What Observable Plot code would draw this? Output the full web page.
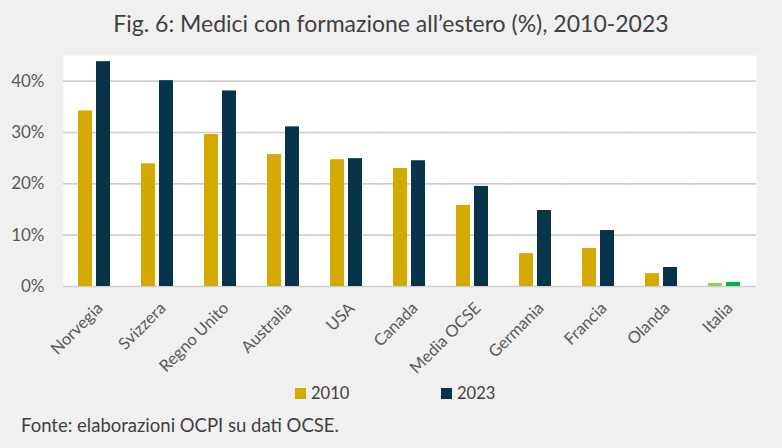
<!DOCTYPE html>
<html><head><meta charset="utf-8">
<script src="https://cdn.jsdelivr.net/npm/d3@7"></script>
<script src="https://cdn.jsdelivr.net/npm/@observablehq/plot@0.6"></script>
<style>
body{margin:0;background:#f0f0f0;font-family:Lato,sans-serif;width:782px;height:448px;overflow:hidden}
#title{height:46px;line-height:46px;text-align:center;font-size:23px;color:#404040}
#chart svg{display:block}
#legend{height:24px;position:relative;font-size:16.5px;color:#404040}
.item{position:absolute;top:0;height:24px;line-height:24px;display:flex;align-items:center}
.sw{width:11px;height:11px;margin-right:5px}
#caption{padding-top:8px;height:24px;line-height:24px;padding-left:21px;font-size:18.5px;color:#404040}
</style></head><body>
<div id="title">Fig. 6: Medici con formazione all’estero (%), 2010-2023</div>
<div id="chart"></div>
<div id="legend"></div>
<div id="caption">Fonte: elaborazioni OCPI su dati OCSE.</div>
<script>
const countries = ["Norvegia","Svizzera","Regno Unito","Australia","USA","Canada","Media OCSE","Germania","Francia","Olanda","Italia"];
const years = ["2010","2023"];
const values2010 = [34.2,23.9,29.6,25.7,24.7,23.0,15.8,6.4,7.4,2.5,0.6];
const values2023 = [43.8,40.1,38.1,31.1,24.9,24.5,19.5,14.8,10.9,3.7,0.8];
const yTicks = [0,10,20,30,40];
const colorKeys = ["2010","2023","Italia 2010","Italia 2023"];
const colorValues = ["#D4A900","#08344B","#92D050","#00B050"];

const rows = [];
countries.forEach((c,i)=>{
  rows.push({country:c, year:"2010", value:values2010[i], key: c==="Italia" ? "Italia 2010" : "2010"});
  rows.push({country:c, year:"2023", value:values2023[i], key: c==="Italia" ? "Italia 2023" : "2023"});
});

const chart = Plot.plot({
  width:782, height:335,
  marginLeft:63, marginRight:26, marginTop:9, marginBottom:95,
  style:{background:"transparent", fontFamily:"Lato, sans-serif"},
  fx:{domain:countries, padding:0, label:null},
  x:{domain:years, paddingInner:0.222, paddingOuter:0.861, axis:null},
  y:{domain:[0,45], label:null},
  color:{domain:colorKeys, range:colorValues},
  marks:[
    Plot.frame({fill:"white", stroke:null}),
    Plot.ruleY(yTicks, {stroke:"#cfcfcf", strokeWidth:1.6}),
    Plot.barY(rows, {fx:"country", x:"year", y:"value", fill:"key"}),
    Plot.axisY(yTicks, {tickFormat:d=>d+"%", tickSize:0, tickPadding:19, fontSize:17, fill:"#595959", label:null}),
    Plot.axisFx({anchor:"bottom", tickRotate:-45, tickSize:0, tickPadding:19, dx:5, fontSize:16.5, fill:"#595959", label:null})
  ]
});
document.getElementById("chart").appendChild(chart);

const legendPos = [295, 441];
const legend = document.getElementById("legend");
years.forEach((y,i)=>{
  const it = document.createElement("div");
  it.className="item"; it.style.left = legendPos[i]+"px";
  it.innerHTML = `<span class="sw" style="background:${colorValues[i]}"></span><span>${y}</span>`;
  legend.appendChild(it);
});
</script>
</body></html>
